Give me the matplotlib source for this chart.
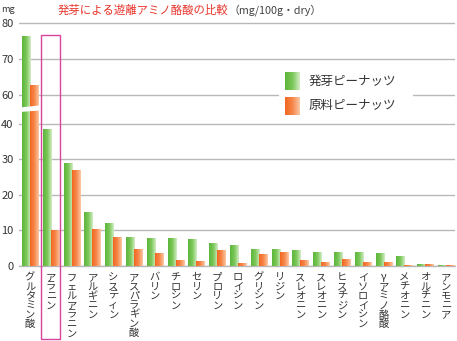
import numpy as np
import matplotlib
matplotlib.use("Agg")
import matplotlib.pyplot as plt
from matplotlib.colors import LinearSegmentedColormap
from matplotlib.patches import Rectangle, Polygon

plt.rcParams["font.family"] = ["Noto Sans CJK JP", "DejaVu Sans"]

# ── Data (mg/100g dry) ─────────────────────────────────────────────────────────
amino = ["グルタミン酸", "アラニン", "フェルアラニン", "アルギニン", "システィン",
         "アスパラギン酸", "バリン", "チロシン", "セリン", "プロリン", "ロイシン",
         "グリシン", "リジン", "スレオニン", "スレオニン", "ヒスチジン",
         "イソロイシン", "γアミノ酪酸", "メチオニン", "オルチニン", "アンモニア"]
sprouted = [76.0, 38.5, 29.0, 15.0, 11.9, 8.1, 7.7, 7.7, 7.5, 6.4, 5.7,
            4.7, 4.6, 4.5, 3.8, 3.8, 3.7, 3.5, 2.6, 0.3, 0.2]
raw = [62.5, 10.0, 27.0, 10.3, 8.1, 4.6, 3.5, 1.5, 1.2, 4.3, 0.8,
       3.2, 3.7, 1.5, 0.9, 1.9, 0.9, 0.9, 0.1, 0.3, 0.1]
series_names = ["発芽ピーナッツ", "原料ピーナッツ"]
yticks_top = [60, 70, 80]
yticks_bottom = [0, 10, 20, 30, 40]
highlight = 1  # アラニン

W, H = 457, 341
green = LinearSegmentedColormap.from_list("g", ["#5cb63c", "#7cc75a", "#d4edc6"])
orange = LinearSegmentedColormap.from_list("o", ["#f26620", "#f6874a", "#fcc9a6"])
grad = np.linspace(0, 1, 64).reshape(1, -1)
grid_c = "#b8b8b8"
text_c = "#333333"


def frac(x0, y0, x1, y1):
    """pixel box (top-left origin) -> figure rect"""
    return [x0 / W, 1 - y1 / H, (x1 - x0) / W, (y1 - y0) / H]


def P(x, y):
    return (x / W, 1 - y / H)


fig = plt.figure(figsize=(W / 100, H / 100), dpi=100)
ax_top = fig.add_axes(frac(19, 21.2, 455, 109.5))
ax_bot = fig.add_axes(frac(19, 109.5, 455, 266))

xs = np.arange(len(amino))
bw = 0.385
for ax, ylim, ticks in [(ax_top, (55.97, 80.5), yticks_top),
                        (ax_bot, (0, 44.08), yticks_bottom)]:
    for x, g, r in zip(xs, sprouted, raw):
        ax.imshow(grad, extent=(x - bw, x, 0, g), aspect="auto", cmap=green,
                  interpolation="bilinear", zorder=3)
        ax.imshow(grad, extent=(x, x + bw, 0, r), aspect="auto", cmap=orange,
                  interpolation="bilinear", zorder=3)
    ax.set_xlim(-0.53, 20.43)
    ax.set_ylim(*ylim)
    ax.set_yticks(ticks)
    ax.set_xticks([])
    ax.grid(axis="y", color=grid_c, linewidth=1.0, zorder=1)
    ax.tick_params(axis="y", length=0, pad=4, labelsize=8, labelcolor=text_c)
    for s in ax.spines.values():
        s.set_visible(False)
    ax.set_facecolor("none")

# bottom gridline at 0
ax_bot.axhline(0, color=grid_c, linewidth=1.0, zorder=2, clip_on=False)

# broken-axis cut on the tall bars
fig.patches.append(Polygon([P(20, 107.5), P(39, 105.5), P(39, 110.5), P(20, 112.0)],
                           closed=True, transform=fig.transFigure,
                           facecolor="white", edgecolor="none", zorder=5))

# vertical category labels
for x, name in zip(xs, amino):
    ax_bot.annotate("\n".join(name), xy=(x, 0), xycoords=("data", "axes fraction"),
                    xytext=(0, -4.5), textcoords="offset points",
                    ha="center", va="top", fontsize=7.4, color=text_c,
                    linespacing=0.92, annotation_clip=False)

# highlight box round アラニン
fig.patches.append(Rectangle(P(40.5, 338.5), 19.5 / W, (338.5 - 34.5) / H,
                             transform=fig.transFigure, fill=False,
                             edgecolor="#d6439b", linewidth=1.0, zorder=6))

# title and unit
fig.text(*P(58, 10), "発芽による遊離アミノ酪酸の比較", color="#e8352c",
         fontsize=8.2, ha="left", va="center")
fig.text(*P(229, 10), "（mg/100g・dry）", color="#444444",
         fontsize=7.8, ha="left", va="center")
fig.text(*P(1, 9), "mg", color=text_c, fontsize=6.5, ha="left", va="center")

# legend
lg = fig.add_axes(frac(279, 66, 413, 121))
lg.set_xlim(279, 413)
lg.set_ylim(121, 66)
lg.set_facecolor("white")
lg.set_xticks([])
lg.set_yticks([])
for s in lg.spines.values():
    s.set_visible(False)
for (y0, y1), cmap, name in [((72, 90), green, series_names[0]),
                              ((97, 115), orange, series_names[1])]:
    lg.imshow(grad, extent=(285, 300, y1, y0), aspect="auto", cmap=cmap,
              interpolation="bilinear")
    lg.text(309, (y0 + y1) / 2, name, fontsize=9, color=text_c,
            ha="left", va="center")
lg.set_xlim(279, 413)
lg.set_ylim(121, 66)

fig.savefig("out.png", dpi=100)
